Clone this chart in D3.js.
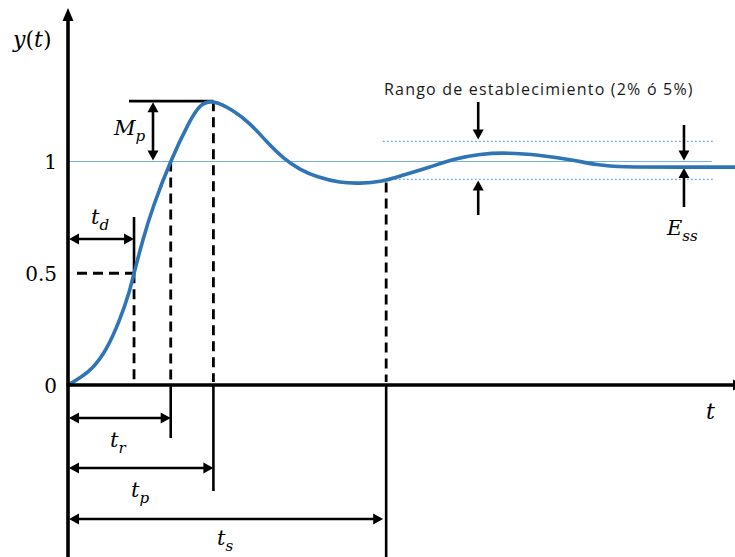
<!DOCTYPE html>
<html>
<head>
<meta charset="utf-8">
<script src="https://cdn.jsdelivr.net/npm/d3@7"></script>
<style>
  html, body { margin: 0; padding: 0; background: #fff; }
  svg { display: block; }
</style>
</head>
<body>
<svg id="chart" width="735" height="557"></svg>
<script>
// Step response y(t) of an underdamped second-order system
const curveT = [0, 0.18, 0.379, 0.58, 0.78, 0.93, 0.99, 1.12, 1.27, 1.53, 1.83, 1.98, 2.18, 2.47, 2.73, 2.98, 3.22, 3.48, 3.73, 4.08, 4.38, 4.68, 4.98, 5.43, 5.77, 6.18, 6.58, 7.08, 7.57, 7.93, 8.28, 9.18, 10];
const curveY = [0, 0.031, 0.076, 0.157, 0.291, 0.425, 0.501, 0.649, 0.796, 1.0, 1.186, 1.258, 1.276, 1.230, 1.172, 1.087, 1.016, 0.962, 0.931, 0.904, 0.902, 0.908, 0.935, 0.975, 1.011, 1.034, 1.040, 1.029, 1.007, 0.984, 0.975, 0.975, 0.975];

// Y tick values and their labels
const yTicks = [0, 0.5, 1];
const yTickLabels = ["0", "0.5", "1"];

// Characteristic times
const tDelay = 0.99;    // t_d : 50% of final value
const tRise = 1.54;     // t_r : first crossing of 1
const tPeak = 2.18;     // t_p : peak time
const tSettle = 4.77;   // t_s : settling time
const yPeak = 1.27;     // overshoot peak value
const ySettle = 0.915;  // response at t_s

// Settling band (upper / lower)
const bandY = [1.09, 0.92];
const bandStartT = 4.72;
const bandEndT = 9.67;
const refEndT = 9.65;
const yFinal = 0.975;
const tEss = 9.235;
const tBandArrow = 6.15;

const svg = d3.select("#chart");
const W = 735, H = 557;

const x = d3.scaleLinear().domain([0, 10]).range([68, 735]);
const y = d3.scaleLinear().domain([0, 1]).range([385, 161.5]);

const black = "#000";
const blue = "#2f75b6";
const lightBlue = "#78aee2";
const mathFont = "'DejaVu Serif', serif";

// Filled arrowhead at (tx,ty) pointing in direction (dx,dy)
function head(tx, ty, dx, dy, len = 10, half = 5.5) {
  const n = Math.hypot(dx, dy); dx /= n; dy /= n;
  const bx = tx - dx * len, by = ty - dy * len;
  const px = -dy, py = dx;
  svg.append("path")
    .attr("d", `M${tx},${ty}L${bx + px * half},${by + py * half}L${bx - px * half},${by - py * half}Z`)
    .attr("fill", black);
}
function seg(x1, y1, x2, y2, w = 2.6, dash = null) {
  const l = svg.append("line")
    .attr("x1", x1).attr("y1", y1).attr("x2", x2).attr("y2", y2)
    .attr("stroke", black).attr("stroke-width", w);
  if (dash) l.attr("stroke-dasharray", dash);
  return l;
}
// Line with arrowheads at one or both ends
function arrow(x1, y1, x2, y2, both) {
  const dx = x2 - x1, dy = y2 - y1, n = Math.hypot(dx, dy);
  const ux = dx / n, uy = dy / n;
  const sx = both ? x1 + ux * 8 : x1, sy = both ? y1 + uy * 8 : y1;
  seg(sx, sy, x2 - ux * 8, y2 - uy * 8);
  head(x2, y2, dx, dy);
  if (both) head(x1, y1, -dx, -dy);
}
function mathLabel(px, py, main, sub, size = 21) {
  const t = svg.append("text")
    .attr("x", px).attr("y", py)
    .attr("font-family", mathFont).attr("font-style", "italic")
    .attr("font-size", size).attr("fill", black);
  t.append("tspan").text(main);
  t.append("tspan").attr("dy", size * 0.28).attr("font-size", size * 0.72).text(sub);
}

const dash = "10,6";

// Reference level y = 1 and settling band
svg.append("line")
  .attr("x1", x(0)).attr("x2", x(refEndT)).attr("y1", y(1)).attr("y2", y(1))
  .attr("stroke", lightBlue).attr("stroke-width", 1.2);
bandY.forEach(v => {
  svg.append("line")
    .attr("x1", x(bandStartT)).attr("x2", x(bandEndT)).attr("y1", y(v)).attr("y2", y(v))
    .attr("stroke", lightBlue).attr("stroke-width", 1.2).attr("stroke-dasharray", "2,2");
});

// Guide lines above the time axis
seg(x(0) + 9, y(0.5), x(tDelay), y(0.5), 2.8, dash);
seg(x(tDelay), y(0.5), x(tDelay), y(0) - 5, 2.8, dash);
seg(x(tDelay), y(0.5), x(tDelay), 217, 2.6);
seg(x(tRise), y(1), x(tRise), y(0) - 3, 2.8, dash);
seg(x(tPeak), y(yPeak), x(tPeak), y(0) - 3, 2.8, dash);
seg(x(tSettle), y(ySettle) + 2, x(tSettle), y(0) - 3, 2.8, dash);

// Peak level line
seg(129, y(yPeak), x(tPeak), y(yPeak), 2.6);

// Guide lines below the time axis
seg(x(tRise), y(0), x(tRise), 438, 2.6);
seg(x(tPeak), y(0), x(tPeak), 491, 2.6);
seg(x(tSettle), y(0), x(tSettle), H, 2.6);

// Time interval arrows
arrow(x(0) + 1, 239, x(tDelay), 239, true);
arrow(x(0) + 1, 418, x(tRise), 418, true);
arrow(x(0) + 1, 468, x(tPeak), 468, true);
arrow(x(0) + 1, 519, x(tSettle) - 3, 519, true);

// Overshoot arrow M_p
arrow(153, y(yPeak) + 1, 153, y(1) - 1, true);

// Settling band arrows
arrow(x(tBandArrow), 102, x(tBandArrow), y(bandY[0]) - 2, false);
arrow(x(tBandArrow), 215, x(tBandArrow), y(bandY[1]) + 1, false);

// Steady-state error arrows
arrow(x(tEss), 125, x(tEss), y(1) - 1, false);
arrow(x(tEss), 207, x(tEss), y(yFinal) + 1, false);

// Response curve (smoothed B-spline through the sampled response)
const pts = curveT.map((t, i) => [t, curveY[i]]);
svg.append("path")
  .datum(pts)
  .attr("d", d3.line().x(d => x(d[0])).y(d => y(d[1])).curve(d3.curveBasis))
  .attr("fill", "none").attr("stroke", blue).attr("stroke-width", 3.6)
  .attr("stroke-linecap", "round");

// Axes
seg(x(0), 20, x(0), H, 3.6);
head(x(0), 8, 0, -1, 13, 5.5);
seg(x(0), y(0), 733, y(0), 3.4);
head(745, y(0), 1, 0, 12, 5.5);

// Y tick labels through a d3 axis
const yAxis = d3.axisLeft(y)
  .tickValues(yTicks)
  .tickFormat((d, i) => yTickLabels[i])
  .tickSize(0).tickPadding(11);
const gy = svg.append("g").attr("transform", `translate(${x(0)},0)`).call(yAxis);
gy.select(".domain").remove();
gy.selectAll("text")
  .attr("font-family", mathFont).attr("font-size", 20).attr("fill", black)
  .attr("dy", "0.36em");

// Axis titles
const yl = svg.append("text").attr("x", 13).attr("y", 47)
  .attr("font-family", mathFont).attr("font-size", 22).attr("fill", black);
yl.append("tspan").attr("font-style", "italic").text("y");
yl.append("tspan").text("(");
yl.append("tspan").attr("font-style", "italic").text("t");
yl.append("tspan").text(")");

svg.append("text").attr("x", 706).attr("y", 419)
  .attr("font-family", mathFont).attr("font-style", "italic")
  .attr("font-size", 22).attr("fill", black).text("t");

// Parameter labels
mathLabel(114, 135, "M", "p");
mathLabel(91, 224, "t", "d");
mathLabel(110, 447, "t", "r");
mathLabel(131, 497, "t", "p");
mathLabel(217, 545, "t", "s");
mathLabel(667, 235, "E", "ss");

svg.append("text").attr("x", 384).attr("y", 95)
  .attr("font-family", "'Open Sans', sans-serif").attr("font-size", 16)
  .attr("letter-spacing", 1.2)
  .attr("fill", "#1a1a1a")
  .text("Rango de establecimiento (2% ó 5%)");
</script>
</body>
</html>
